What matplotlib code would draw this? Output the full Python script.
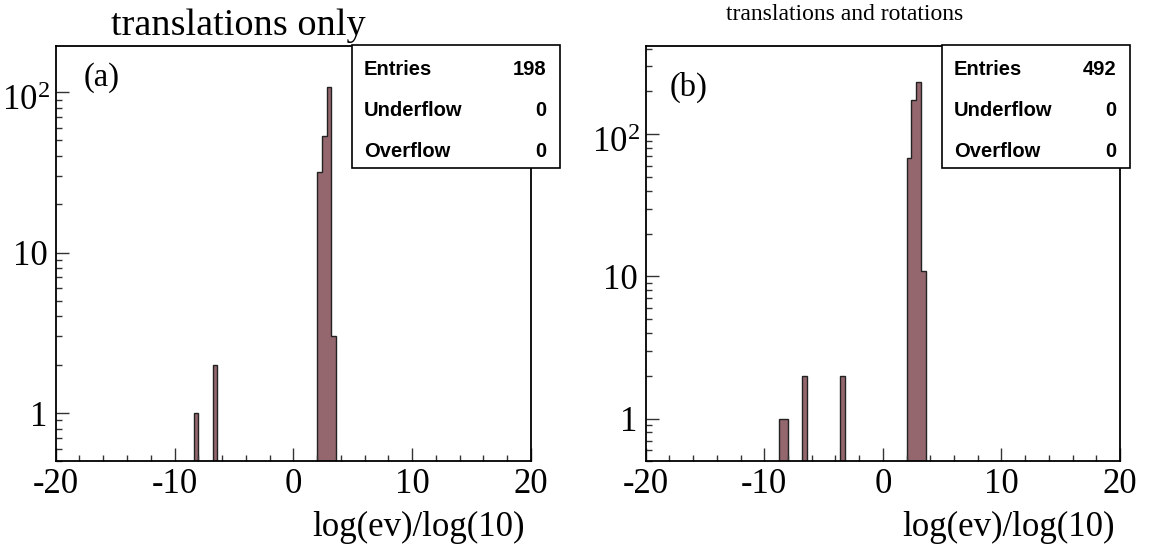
import numpy as np
import matplotlib
matplotlib.use("Agg")
import matplotlib.pyplot as plt
from matplotlib.ticker import LogLocator, FixedLocator, FuncFormatter, MultipleLocator
from matplotlib.transforms import ScaledTranslation

plt.rcParams['mathtext.fontset'] = 'custom'
plt.rcParams['mathtext.rm'] = 'Liberation Serif'
plt.rcParams['mathtext.it'] = 'Liberation Serif:italic'

# ---- data ----
bin_width = 0.4
x_min, x_max = -20.0, 20.0

a_bin_left = [-8.4, -6.8, 2.0, 2.4, 2.8, 3.2]
a_counts = [1, 2, 32, 53, 107, 3]
a_stats = [("Entries", "198"), ("Underflow", "0"), ("Overflow", "0")]

b_bin_left = [-8.8, -8.4, -6.8, -3.6, 2.0, 2.4, 2.8, 3.2]
b_counts = [1, 1, 2, 2, 68, 175, 232, 11]
b_stats = [("Entries", "492"), ("Underflow", "0"), ("Overflow", "0")]

x_ticks = [-20, -10, 0, 10, 20]
x_label = "log(ev)/log(10)"

fill_color = "#94666e"
serif = "Liberation Serif"
sans = "Liberation Sans"

W, H = 1149, 553
fig = plt.figure(figsize=(W / 100, H / 100), dpi=100)


def px_rect(l, r, b, t):
    return [l / W, 1 - b / H, (r - l) / W, (b - t) / H]


def draw_panel(rect, bin_left, counts, ylim):
    ax = fig.add_axes(rect)
    edges = np.arange(x_min, x_max + bin_width / 2, bin_width)
    full = np.zeros(len(edges) - 1)
    for bl, c in zip(bin_left, counts):
        idx = int(round((bl - x_min) / bin_width))
        full[idx] = c
    ax.set_yscale('log', nonpositive='clip')
    ax.stairs(full, edges, fill=True, facecolor=fill_color, edgecolor='none', baseline=1e-3)
    ax.stairs(full, edges, fill=False, edgecolor='#222222', linewidth=1.0, baseline=1e-3)
    ax.set_xlim(x_min, x_max)
    ax.set_ylim(*ylim)
    ax.xaxis.set_major_locator(FixedLocator(x_ticks))
    ax.xaxis.set_minor_locator(MultipleLocator(2))
    ax.xaxis.set_major_formatter(FuncFormatter(lambda v, p: f"{int(v)}"))
    ax.yaxis.set_major_locator(LogLocator(base=10, numticks=10))
    ax.yaxis.set_minor_locator(LogLocator(base=10, subs=np.arange(2, 10), numticks=10))

    def yfmt(v, p):
        e = int(round(np.log10(v)))
        if e == 0:
            return "1"
        if e == 1:
            return "10"
        return r"$\mathregular{10^{%d}}$" % e
    ax.yaxis.set_major_formatter(FuncFormatter(yfmt))
    ax.yaxis.set_minor_formatter(FuncFormatter(lambda v, p: ""))
    ax.tick_params(which='both', direction='in', top=False, right=False, width=1.0, color='#333333')
    ax.tick_params(which='major', length=9.5, labelsize=25, pad=6)
    ax.tick_params(which='minor', length=4.5)
    ax.tick_params(axis='x', which='major', pad=5)
    for lab in ax.get_xticklabels() + ax.get_yticklabels():
        lab.set_fontfamily(serif)
    for s in ax.spines.values():
        s.set_linewidth(1.3)
    return ax


ax_a = draw_panel(px_rect(55.7, 531, 461.3, 46), a_bin_left, a_counts, (0.5, 194))
ax_b = draw_panel(px_rect(645.7, 1120, 461.3, 46), b_bin_left, b_counts, (0.5, 418))

# titles
fig.text(238 / W, 1 - 35 / H, "translations only", family=serif, fontsize=27.5, ha='center', va='baseline')
fig.text(845 / W, 1 - 14 / H, "translations and rotations", family=serif, fontsize=17, ha='center', va='center')

# panel letters
fig.text(102 / W, 1 - 78 / H, "(a)", family=serif, fontsize=23.5, ha='center', va='center')
fig.text(689 / W, 1 - 87 / H, "(b)", family=serif, fontsize=23.5, ha='center', va='center')

# x labels
fig.text(525 / W, 1 - 527 / H, x_label, family=serif, fontsize=25, ha='right', va='center')
fig.text(1115 / W, 1 - 527 / H, x_label, family=serif, fontsize=25, ha='right', va='center')


def stats_box(l, r, t, b, rows):
    box = plt.Rectangle((l / W, 1 - b / H), (r - l) / W, (b - t) / H, transform=fig.transFigure,
                        facecolor='white', edgecolor='black', linewidth=1.2, zorder=5)
    fig.add_artist(box)
    n = len(rows)
    step = (b - t) / n
    for i, (k, v) in enumerate(rows):
        y = t + step * (i + 0.5) + 4
        fig.text((l + 12) / W, 1 - y / H, k, family=sans, weight='bold', fontsize=14.5,
                 ha='left', va='center', zorder=6)
        fig.text((r - 14) / W, 1 - y / H, v, family=sans, weight='bold', fontsize=14.5,
                 ha='right', va='center', zorder=6)


stats_box(352, 560, 45, 168, a_stats)
stats_box(942, 1130, 45, 168, b_stats)

# ROOT places superscripted labels a little lower
fig.canvas.draw()
for ax in (ax_a, ax_b):
    for t in ax.yaxis.get_major_ticks():
        if '^' in t.label1.get_text():
            t.label1.set_transform(t.label1.get_transform() +
                                   ScaledTranslation(0.03, -0.05, fig.dpi_scale_trans))

fig.savefig("out.png", dpi=100)
